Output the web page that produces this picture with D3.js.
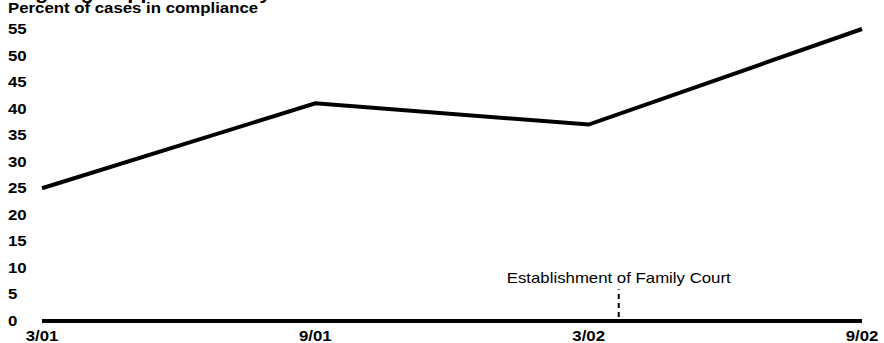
<!DOCTYPE html>
<html>
<head>
<meta charset="utf-8">
<script src="https://cdn.jsdelivr.net/npm/d3@7"></script>
<style>
  body { margin: 0; background: #fff; }
  text { font-family: "Liberation Sans", Arial, Helvetica, sans-serif; }
</style>
</head>
<body>
<div id="chart"></div>
<script>
// data
const periods = ["3/01", "9/01", "3/02", "9/02"];
const compliance = [25, 41, 37, 55];
const yTicks = [0, 5, 10, 15, 20, 25, 30, 35, 40, 45, 50, 55];
const eventLabel = "Establishment of Family Court";
const eventPos = 2.11; // between 3/02 and 9/02, in period units

const w = 884;
const h = 343;
const stretch = 1.2; // reference type is set a bit wide

const xScale = d3.scaleLinear()
  .domain([0, periods.length - 1])
  .range([42, 862]);

const yScale = d3.scaleLinear()
  .domain([0, 55])
  .range([321, 29]);

const svg = d3.select("#chart")
  .append("svg")
  .attr("width", w)
  .attr("height", h);

// puts a text at x,y but widened horizontally
function wideText(g, x, y) {
  return g.append("text")
    .attr("transform", `translate(${x},${y}) scale(${stretch},1)`);
}

// clipped title at top (only descenders show)
wideText(svg, 5, -1)
  .attr("font-size", 18)
  .attr("font-weight", "bold")
  .text("Ongoing Support Monthly");

wideText(svg, 8, 13)
  .attr("font-size", 14)
  .attr("font-weight", "bold")
  .text("Percent of cases in compliance");

// y tick labels
yTicks.forEach(d => {
  wideText(svg, 8, yScale(d) + 5)
    .attr("font-size", 14)
    .attr("font-weight", "bold")
    .text(d);
});

// x axis line
svg.append("line")
  .attr("x1", xScale(0))
  .attr("x2", xScale(periods.length - 1))
  .attr("y1", yScale(0))
  .attr("y2", yScale(0))
  .attr("stroke", "#000")
  .attr("stroke-width", 4);

// x labels
periods.forEach((d, i) => {
  wideText(svg, xScale(i), 341)
    .attr("text-anchor", "middle")
    .attr("font-size", 14)
    .attr("font-weight", "bold")
    .text(d);
});

// event marker
svg.append("line")
  .attr("x1", xScale(eventPos))
  .attr("x2", xScale(eventPos))
  .attr("y1", yScale(0) - 4)
  .attr("y2", yScale(6))
  .attr("stroke", "#000")
  .attr("stroke-width", 2)
  .attr("stroke-dasharray", "5,4");

wideText(svg, xScale(eventPos), 283)
  .attr("text-anchor", "middle")
  .attr("font-size", 14)
  .text(eventLabel);

// compliance line
const line = d3.line()
  .x((d, i) => xScale(i))
  .y(d => yScale(d));

svg.append("path")
  .datum(compliance)
  .attr("d", line)
  .attr("fill", "none")
  .attr("stroke", "#000")
  .attr("stroke-width", 4);
</script>
</body>
</html>
